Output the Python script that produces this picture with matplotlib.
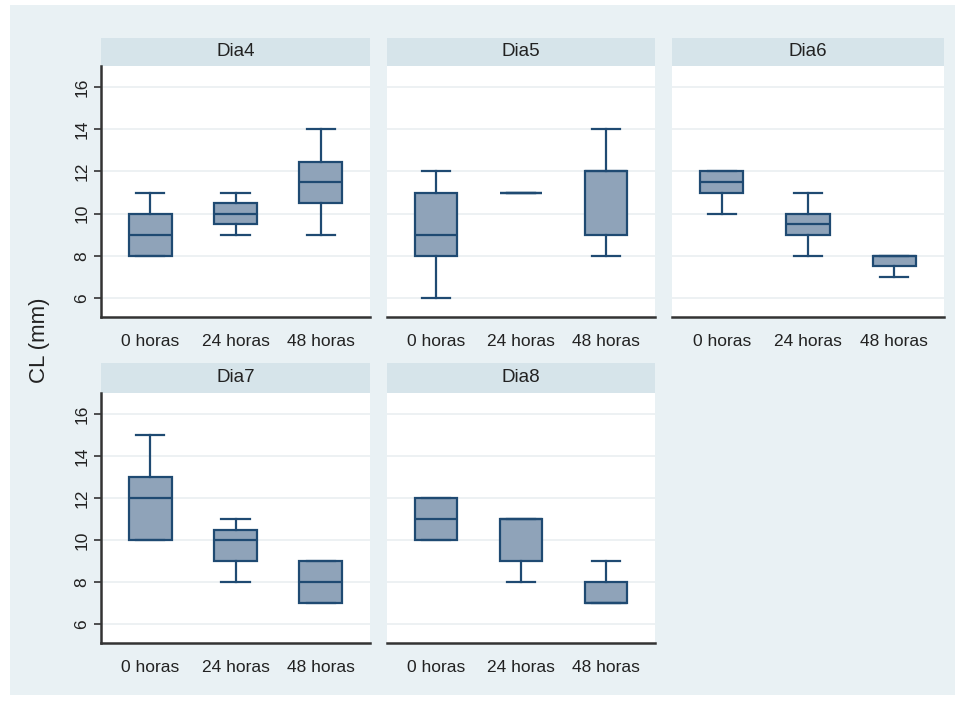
import matplotlib.pyplot as plt
from matplotlib.patches import Rectangle

plt.rcParams['font.family'] = ['Liberation Sans', 'DejaVu Sans']

# dados
dias = ["Dia4", "Dia5", "Dia6", "Dia7", "Dia8"]
grupos = ["0 horas", "24 horas", "48 horas"]

minimo = [[8, 9, 9], [6, 11, 8], [10, 8, 7], [10, 8, 7], [10, 8, 7]]
q1 = [[8, 9.5, 10.5], [8, 11, 9], [11, 9, 7.5], [10, 9, 7], [10, 9, 7]]
mediana = [[9, 10, 11.5], [9, 11, 12], [11.5, 9.5, 8], [12, 10, 8], [11, 11, 7]]
q3 = [[10, 10.5, 12.45], [11, 11, 12], [12, 10, 8], [13, 10.5, 9], [12, 11, 8]]
maximo = [[11, 11, 14], [12, 11, 14], [12, 11, 8], [15, 11, 9], [12, 11, 9]]

yticks = [6, 8, 10, 12, 14, 16]

# cores (estilo Stata)
fundo = "#e9f1f4"
faixa = "#d6e4ea"
preench = "#8fa3b9"
borda = "#1f4a72"

W, H = 964, 702
fig = plt.figure(figsize=(W / 100, H / 100), dpi=100)
fig.patch.set_facecolor("white")
fig.patches.append(Rectangle((10 / W, 1 - 695 / H), 945 / W, 690 / H,
                             transform=fig.transFigure, facecolor=fundo,
                             edgecolor="none", zorder=-1))

def px_axes(x0, y0, x1, y1):
    return fig.add_axes([x0 / W, 1 - y1 / H, (x1 - x0) / W, (y1 - y0) / H])

colunas = [(101, 370), (387, 655), (672, 944)]
linhas = [(38, 66, 317), (363, 393, 643)]

for i, dia in enumerate(dias):
    r, c = divmod(i, 3)
    x0, x1 = colunas[c]
    st, top, bot = linhas[r]

    # faixa do título
    sax = px_axes(x0, st, x1, top)
    sax.set_facecolor(faixa)
    sax.set_xticks([])
    sax.set_yticks([])
    for s in sax.spines.values():
        s.set_visible(False)
    sax.text(0.5, 0.5, dia, ha="center", va="center", fontsize=13.5,
             color="#222222", transform=sax.transAxes)

    ax = px_axes(x0, top, x1, bot)
    ax.set_facecolor("white")
    stats = []
    for j, g in enumerate(grupos):
        stats.append({"label": g, "whislo": minimo[i][j], "q1": q1[i][j],
                      "med": mediana[i][j], "q3": q3[i][j],
                      "whishi": maximo[i][j], "fliers": []})
    ax.bxp(stats, positions=[1, 2, 3], widths=0.5, patch_artist=True,
           showfliers=False,
           boxprops=dict(facecolor=preench, edgecolor=borda, linewidth=1.6),
           medianprops=dict(color=borda, linewidth=1.6),
           whiskerprops=dict(color=borda, linewidth=1.6),
           capprops=dict(color=borda, linewidth=1.6),
           capwidths=0.33)

    ax.set_xlim(0.42, 3.58)
    ax.set_ylim(5.1, 17.0)
    ax.set_yticks(yticks)
    ax.grid(axis="y", color="#eaeff1", linewidth=1.2)
    ax.set_axisbelow(True)
    ax.spines["top"].set_visible(False)
    ax.spines["right"].set_visible(False)
    ax.spines["bottom"].set_color("#333333")
    ax.spines["bottom"].set_linewidth(1.8)
    ax.spines["left"].set_color("#333333")
    ax.spines["left"].set_linewidth(1.8)
    ax.tick_params(axis="x", length=0, labelsize=12.5, pad=12, colors="#222222")
    if c == 0:
        ax.tick_params(axis="y", length=5, width=1.2, labelsize=12.5,
                       colors="#333333", labelcolor="#222222")
        for lab in ax.get_yticklabels():
            lab.set_rotation(90)
            lab.set_va("center")
    else:
        ax.spines["left"].set_visible(False)
        ax.tick_params(axis="y", length=0, labelleft=False)

fig.text(40 / W, 1 - 340 / H, "CL (mm)", rotation=90, ha="center",
         va="center", fontsize=16, color="#222222")

fig.savefig("out.png", dpi=100)
